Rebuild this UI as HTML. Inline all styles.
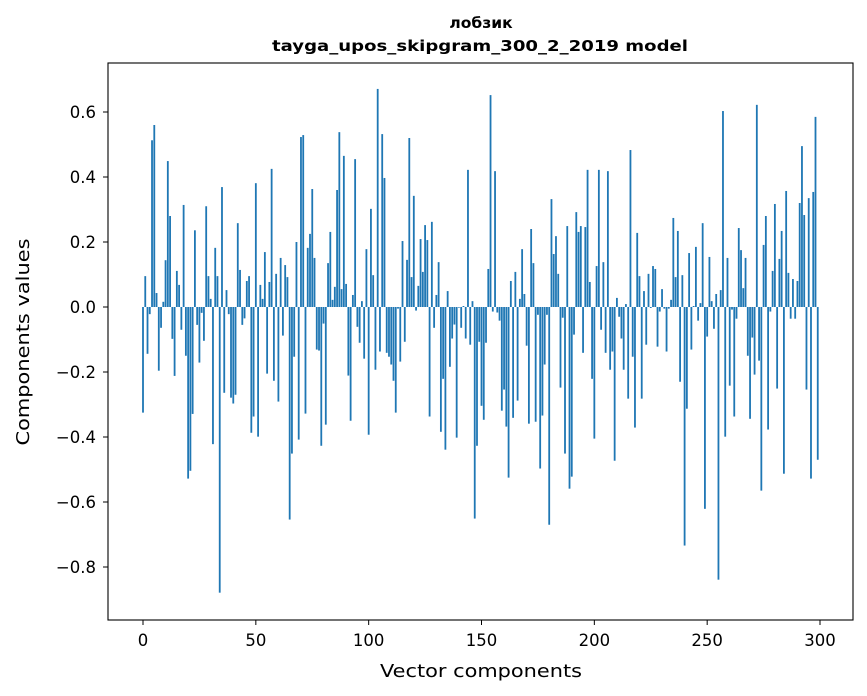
<!DOCTYPE html>
<html><head><meta charset="utf-8"><style>
body{margin:0;background:#fff;}
svg{display:block;font-family:"DejaVu Sans","Liberation Sans",sans-serif;}
</style></head><body>
<svg id="chart" width="867" height="696">
<rect width="867" height="696" fill="#fff"/>
<text x="481" y="28" text-anchor="middle" font-size="15.5" font-weight="bold">лобзик</text>
<text x="480" y="51" text-anchor="middle" font-size="15.5" font-weight="bold" textLength="416" lengthAdjust="spacingAndGlyphs">tayga_upos_skipgram_300_2_2019 model</text>
<g id="bars"></g>
<g id="yticks"></g>
<g id="xticks"></g>
<rect x="108" y="63" width="745" height="557" fill="none" stroke="#000" stroke-width="1.1"/>
<text x="481" y="677" text-anchor="middle" font-size="18" textLength="202" lengthAdjust="spacingAndGlyphs">Vector components</text>
<text transform="translate(29,342) rotate(-90)" text-anchor="middle" font-size="18" textLength="207" lengthAdjust="spacingAndGlyphs">Components values</text>
</svg>
<script>
const values = [-0.325,0.095,-0.144,-0.022,0.513,0.560,0.043,-0.196,-0.064,0.016,0.144,0.449,0.280,-0.098,-0.212,0.111,0.068,-0.070,0.314,-0.150,-0.528,-0.504,-0.329,0.236,-0.055,-0.171,-0.018,-0.104,0.310,0.095,0.025,-0.422,0.182,0.095,-0.879,0.369,-0.264,0.052,-0.022,-0.279,-0.297,-0.270,0.258,0.114,-0.055,-0.035,0.080,0.095,-0.387,-0.337,0.381,
-0.399,0.068,0.025,0.169,-0.205,0.077,0.425,-0.227,0.102,-0.291,0.151,-0.088,0.129,0.092,-0.654,-0.451,-0.153,0.200,-0.408,0.523,0.529,-0.328,0.182,0.225,0.363,0.151,-0.131,-0.134,-0.427,-0.051,-0.362,0.135,0.231,0.022,0.062,0.360,0.538,0.055,0.465,0.071,-0.211,-0.350,0.037,0.455,-0.061,-0.110,0.018,-0.159,0.178,-0.393,
0.302,0.098,-0.193,0.671,-0.137,0.532,0.397,-0.141,-0.153,-0.177,-0.227,-0.325,-0.005,-0.168,0.203,-0.107,0.145,0.520,0.092,0.342,-0.011,0.065,0.209,0.108,0.252,0.206,-0.337,0.262,-0.064,0.037,0.138,-0.384,-0.221,-0.439,0.049,-0.184,-0.097,-0.054,-0.402,-0.002,-0.064,0.003,-0.097,0.422,-0.116,0.018,-0.651,-0.427,-0.107,-0.304,
-0.347,-0.110,0.117,0.652,-0.014,0.418,-0.017,-0.042,-0.319,-0.254,-0.368,-0.525,0.080,-0.341,0.108,-0.288,0.025,0.178,0.040,-0.119,-0.359,0.240,0.135,-0.353,-0.024,-0.497,-0.334,-0.177,-0.024,-0.670,0.332,0.163,0.218,0.102,-0.248,-0.033,-0.451,0.249,-0.559,-0.522,-0.085,0.292,0.231,0.249,-0.141,0.246,0.422,0.077,-0.221,-0.405,
0.126,0.422,-0.070,0.138,-0.141,0.418,-0.193,-0.137,-0.473,0.028,-0.030,-0.097,-0.193,0.009,-0.282,0.483,-0.153,-0.371,0.228,0.095,-0.282,0.049,-0.116,0.102,-0.003,0.126,0.117,-0.122,-0.014,0.055,-0.005,-0.137,-0.005,0.022,0.274,0.092,0.234,-0.230,0.098,-0.734,-0.313,0.166,-0.131,0.003,0.185,-0.042,0.012,0.258,-0.621,-0.091,
0.154,0.018,-0.067,0.040,-0.839,0.052,0.603,-0.399,0.151,-0.242,-0.008,-0.337,-0.036,0.243,0.175,0.058,0.151,-0.150,-0.344,-0.094,-0.208,0.622,-0.165,-0.565,0.191,0.280,-0.377,-0.014,0.111,0.317,-0.251,0.148,0.234,-0.513,0.357,0.105,-0.036,0.086,-0.036,0.080,0.320,0.495,0.283,-0.254,0.335,-0.528,0.354,0.585,-0.470];
const yTicks = [-0.8,-0.6,-0.4,-0.2,0.0,0.2,0.4,0.6];
const yTickLabels = ["\u22120.8","\u22120.6","\u22120.4","\u22120.2","0.0","0.2","0.4","0.6"];
const xTicks = [0,50,100,150,200,250,300];
const xTickLabels = ["0","50","100","150","200","250","300"];

const NS="http://www.w3.org/2000/svg";
const xS = i => 143 + i*2.2567;
const yS = v => 307 - v*325;
const bw = 0.8*2.2567;
const gb=document.getElementById('bars');
values.forEach((v,i)=>{
  const r=document.createElementNS(NS,'rect');
  
  
  const y0=yS(0), y1=yS(v);
  r.setAttribute('x',xS(i)-bw/2);
  r.setAttribute('y',Math.min(y0,y1));
  r.setAttribute('width',bw);
  r.setAttribute('height',Math.max(Math.abs(y1-y0),0.3));
  r.setAttribute('fill','#1f77b4');
  gb.appendChild(r);
});
const gy=document.getElementById('yticks');
yTicks.forEach((t,k)=>{
  const y=yS(t);
  const l=document.createElementNS(NS,'line');
  
  
  l.setAttribute('x1',103);l.setAttribute('x2',108);l.setAttribute('y1',y);l.setAttribute('y2',y);
  l.setAttribute('stroke','#000');
  gy.appendChild(l);
  const tx=document.createElementNS(NS,'text');
  
  
  tx.setAttribute('x',96);tx.setAttribute('y',y+6);
  tx.setAttribute('text-anchor','end');tx.setAttribute('font-size','16.5');
  tx.textContent=yTickLabels[k];
  gy.appendChild(tx);
});
const gx=document.getElementById('xticks');
xTicks.forEach((t,k)=>{
  const x=xS(t);
  const l=document.createElementNS(NS,'line');
  
  
  l.setAttribute('x1',x);l.setAttribute('x2',x);l.setAttribute('y1',620);l.setAttribute('y2',625);
  l.setAttribute('stroke','#000');
  gx.appendChild(l);
  const tx=document.createElementNS(NS,'text');
  
  
  tx.setAttribute('x',x);tx.setAttribute('y',646);
  tx.setAttribute('text-anchor','middle');tx.setAttribute('font-size','16.5');
  tx.textContent=xTickLabels[k];
  gx.appendChild(tx);
});
</script>
</body></html>
